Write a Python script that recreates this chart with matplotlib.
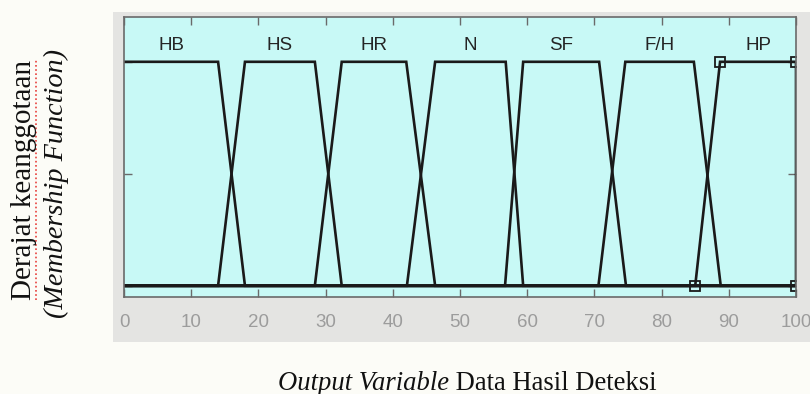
import matplotlib
matplotlib.use("Agg")
import matplotlib.pyplot as plt
from matplotlib.patches import Rectangle

plt.rcParams["font.family"] = ["Liberation Sans", "DejaVu Sans"]

# membership functions of the output variable (trapezoids a, b, c, d)
mf_names = ["HB", "HS", "HR", "N", "SF", "F/H", "HP"]
mf_a = [0, 14, 28.4, 42.1, 56.7, 70.6, 85]
mf_b = [0, 18, 32.4, 46.3, 59.4, 74.6, 88.7]
mf_c = [14, 28.4, 42.0, 56.8, 70.7, 84.8, 100]
mf_d = [18, 32.4, 46.3, 59.4, 74.7, 88.8, 100]
selected = "HP"

x_ticks = [0, 10, 20, 30, 40, 50, 60, 70, 80, 90, 100]
y_ticks = [0, 0.5, 1]
x_range = (0, 100)

W, H = 810, 394
fig = plt.figure(figsize=(W / 100, H / 100), dpi=100)
fig.patch.set_facecolor("#fcfcf7")

# grey matlab figure window behind the axes
fig.patches.append(Rectangle((113 / W, 1 - 342 / H), (W - 113) / W, (342 - 12) / H,
                             transform=fig.transFigure, facecolor="#e4e4e2",
                             edgecolor="none", zorder=-5))

ax = fig.add_axes([124 / W, 1 - 297 / H, (796 - 124) / W, (297 - 17) / H])
ax.set_zorder(2)
ax.set_facecolor("#c8f9f6")

for i in range(len(mf_names)):
    xs = [x_range[0], mf_a[i], mf_b[i], mf_c[i], mf_d[i], x_range[1]]
    ys = [0, 0, 1, 1, 0, 0]
    if mf_a[i] == mf_b[i] == x_range[0]:
        xs, ys = xs[2:], ys[2:]
    ax.plot(xs, ys, color="#1a1a1a", lw=1.9, solid_joinstyle="miter")
    if mf_names[i] == selected:
        ax.plot([mf_a[i], mf_b[i], mf_c[i], mf_d[i]], [0, 1, 1, 0], ls="none",
                marker="s", ms=7, mfc="none", mec="#1a1a1a", mew=1.3)
    xm = (mf_b[i] + mf_c[i]) / 2
    ax.text(xm, 1.054, mf_names[i], ha="center", va="baseline", fontsize=13.5,
            color="#252525")

ax.set_xlim(*x_range)
ax.set_ylim(-0.05, 1.2)
ax.set_xticks(x_ticks)
ax.set_yticks(y_ticks)
ax.tick_params(direction="in", length=6, width=1, color="#6a6a6a",
               top=True, right=True, labelleft=False, pad=12,
               labelsize=13.5, labelcolor="#9c9c9c")
for sp in ax.spines.values():
    sp.set_color("#6a6a6a")
    sp.set_linewidth(1.2)

# document text around the screenshot
fig.text(24 / W, 1 - 180 / H, "Derajat keanggotaan", rotation=90, ha="center",
         va="center", fontsize=21, family="Liberation Serif", color="#111111")
fig.text(56 / W, 1 - 184 / H, "(Membership Function)", rotation=90, ha="center",
         va="center", fontsize=20.3, family="Liberation Serif", style="italic",
         color="#111111")
fig.add_artist(plt.Line2D([36 / W, 36 / W], [1 - 300 / H, 1 - 60 / H],
                          transform=fig.transFigure, color="#e8403c", lw=1.2,
                          ls=(0, (1, 1.5))))

fig.canvas.draw()
r = fig.canvas.get_renderer()
t1 = fig.text(278 / W, 1 - 380 / H, "Output Variable", ha="left", va="center_baseline",
              fontsize=19.2, family="Liberation Serif", style="italic", color="#111111")
bb = t1.get_window_extent(r)
fig.text(bb.x1 / W, 1 - 380 / H, " Data Hasil Deteksi", ha="left", va="center_baseline",
         fontsize=19.2, family="Liberation Serif", color="#111111")

fig.savefig("out.png", dpi=100, facecolor=fig.get_facecolor())
